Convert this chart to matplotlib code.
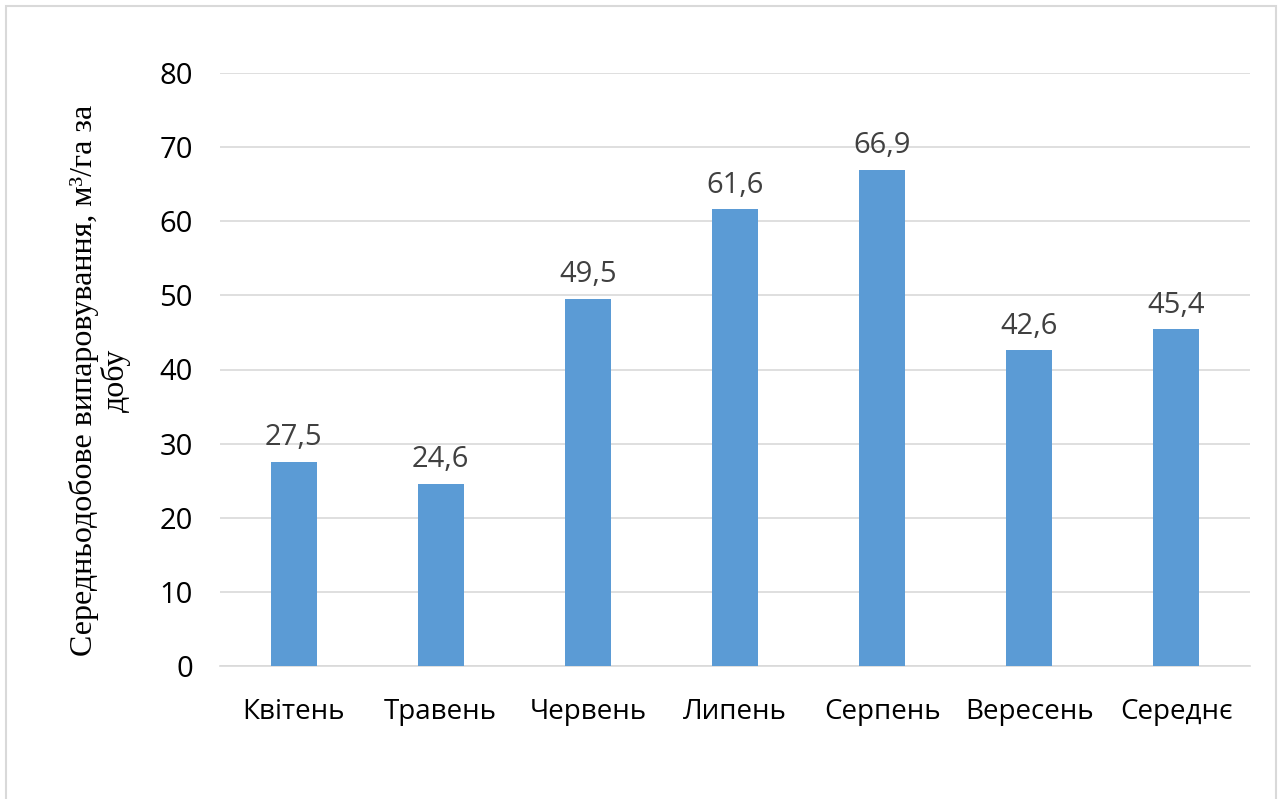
import matplotlib
matplotlib.use("Agg")
import matplotlib.pyplot as plt
from matplotlib.patches import Rectangle

categories = ["Квітень", "Травень", "Червень", "Липень", "Серпень", "Вересень", "Середнє"]
values = [27.5, 24.6, 49.5, 61.6, 66.9, 42.6, 45.4]
labels = ["27,5", "24,6", "49,5", "61,6", "66,9", "42,6", "45,4"]
yticks = [0, 10, 20, 30, 40, 50, 60, 70, 80]
ylabel = "Середньодобове випаровування, м³/га за\nдобу"

sans = ["Open Sans", "DejaVu Sans"]
serif = ["Liberation Serif", "DejaVu Serif"]

fig = plt.figure(figsize=(12.8, 7.99), dpi=100)
fig.patches.append(Rectangle((6/1280, -0.01), (1276-6)/1280, 1.01 - 6/799,
                             transform=fig.transFigure, fill=False,
                             edgecolor="#D9D9D9", linewidth=1.5))
ax = fig.add_axes([220/1280, 133/799, 1030/1280, 593/799])

x = list(range(len(categories)))
bars = ax.bar(x, values, width=0.313, color="#5B9BD5", zorder=3)
for b, lab in zip(bars, labels):
    ax.annotate(lab, (b.get_x() + b.get_width()/2, b.get_height()),
                xytext=(0, 7), textcoords="offset points", ha="center", va="bottom",
                fontsize=21, color="#404040", family=sans)

ax.set_xlim(-0.5, len(categories) - 0.5)
ax.set_ylim(0, 80)
ax.set_yticks(yticks)
ax.set_yticklabels([str(t) for t in yticks], fontsize=21, family=sans, color="#000000")
ax.set_xticks(x)
ax.set_xticklabels(categories, fontsize=20, family=sans, color="#000000")
ax.tick_params(axis="both", length=0)
ax.tick_params(axis="y", pad=19.5)
ax.tick_params(axis="x", pad=23)
ax.grid(axis="y", color="#D9D9D9", linewidth=1.2, zorder=0)
for s in ["top", "right", "left"]:
    ax.spines[s].set_visible(False)
ax.spines["bottom"].set_color("#D9D9D9")
ax.spines["bottom"].set_linewidth(1.2)

fig.text(100/1280, 1 - 380/799, ylabel, rotation=90, ha="center", va="center",
         multialignment="center", fontsize=23, family=serif, color="#000000",
         linespacing=1.1)

fig.savefig("out.png", dpi=100)
